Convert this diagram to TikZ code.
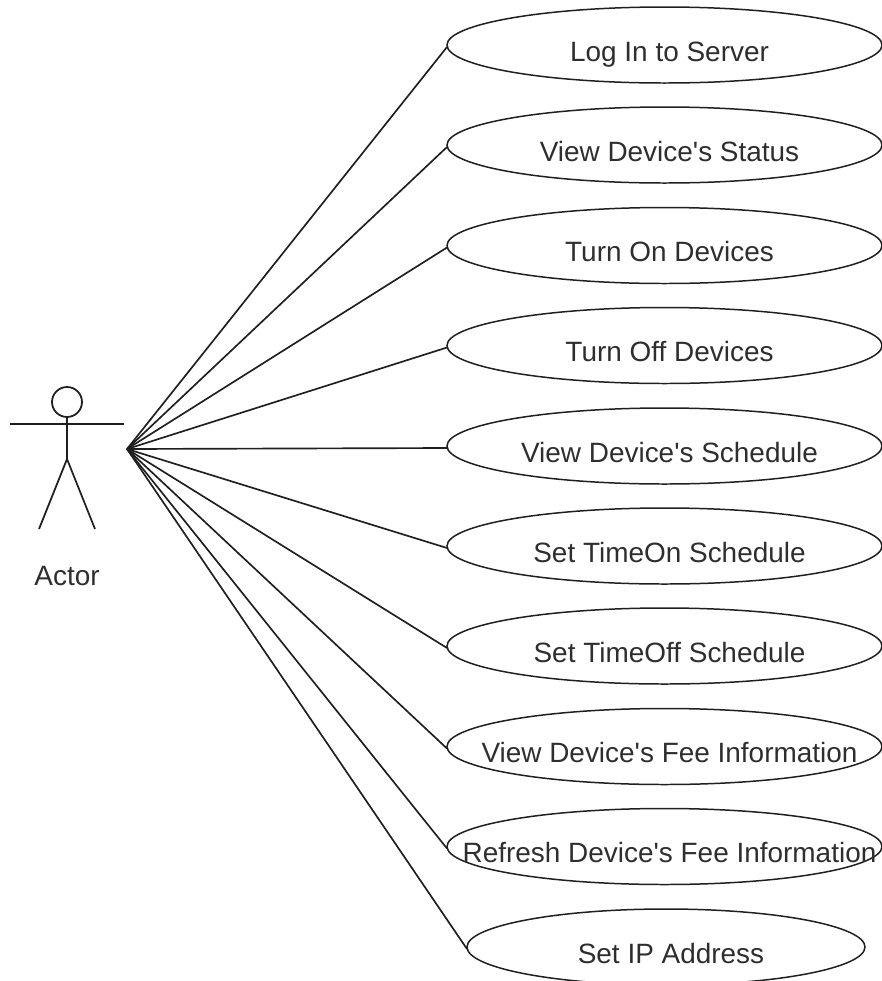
\documentclass[tikz,border=0pt]{standalone}
\usepackage{fontspec}
\usepackage{tikz}
\usepackage{xcolor}
\setmainfont{Liberation Sans}
\usetikzlibrary{shapes.geometric}
\definecolor{linegray}{gray}{0.12}
\definecolor{textgray}{gray}{0.18}
\tikzset{
    usecase/.style={draw=linegray, ellipse, line width=0.85pt, minimum width=8.7cm, minimum height=1.52cm, inner sep=0pt, outer sep=0pt},
    usecasetext/.style={font=\fontsize{15.9}{18}\selectfont, text=textgray, inner sep=0pt, text height=0.38cm, text depth=0.1cm, xshift=0.1cm, yshift=-0.18cm},
    assoc/.style={draw=linegray, line width=0.95pt},
    actorline/.style={draw=linegray, line width=1pt}
}
\begin{document}
\begin{tikzpicture}
        \useasboundingbox (0,0) rectangle (17.64,-19.62);

        % Actor figure
        \node (head) at (1.34,-8.04) [circle, draw=linegray, line width=1pt, minimum size=0.6cm, inner sep=0pt, outer sep=0pt] {};
        \coordinate (hip) at (1.34,-9.18);
        \coordinate (armL) at (0.2,-8.48);
        \coordinate (armR) at (2.48,-8.48);
        \coordinate (footL) at (0.78,-10.58);
        \coordinate (footR) at (1.9,-10.58);
        \draw[actorline] (head.south) -- (hip);
        \draw[actorline] (armL) -- (armR);
        \draw[actorline] (footL) -- (hip) -- (footR);
        \node (actorname) at (1.34,-11.52) [font=\fontsize{15.9}{18}\selectfont, text=textgray, inner sep=0pt] {Actor};
        \coordinate (hand) at (2.54,-8.98);

        % Use cases
        \node (login) at (13.29,-0.9) [usecase, label={[usecasetext]center:Log In to Server}] {};
        \node (status) at (13.29,-2.9) [usecase, label={[usecasetext]center:View Device\textquotesingle s Status}] {};
        \node (turnon) at (13.29,-4.91) [usecase, label={[usecasetext]center:Turn On Devices}] {};
        \node (turnoff) at (13.29,-6.91) [usecase, label={[usecasetext]center:Turn Off Devices}] {};
        \node (schedule) at (13.29,-8.92) [usecase, label={[usecasetext]center:View Device\textquotesingle s Schedule}] {};
        \node (timeon) at (13.29,-10.92) [usecase, label={[usecasetext]center:Set TimeOn Schedule}] {};
        \node (timeoff) at (13.29,-12.92) [usecase, label={[usecasetext]center:Set TimeOff Schedule}] {};
        \node (fee) at (13.29,-14.93) [usecase, label={[usecasetext]center:View Device\textquotesingle s Fee Information}] {};
        \node (refresh) at (13.29,-16.93) [usecase, label={[usecasetext]center:Refresh Device\textquotesingle s Fee Information}] {};
        \node (ipaddress) at (13.32,-18.94) [usecase, minimum width=7.96cm, label={[usecasetext]center:Set IP Address}] {};

        % Associations
        \draw[assoc] (hand) -- ([yshift=-0.04cm]login.west);
        \draw[assoc] (hand) -- ([yshift=-0.04cm]status.west);
        \draw[assoc] (hand) -- ([yshift=-0.04cm]turnon.west);
        \draw[assoc] (hand) -- ([yshift=-0.04cm]turnoff.west);
        \draw[assoc] (hand) -- ([yshift=-0.04cm]schedule.west);
        \draw[assoc] (hand) -- ([yshift=-0.04cm]timeon.west);
        \draw[assoc] (hand) -- ([yshift=-0.04cm]timeoff.west);
        \draw[assoc] (hand) -- ([yshift=-0.04cm]fee.west);
        \draw[assoc] (hand) -- ([yshift=-0.04cm]refresh.west);
        \draw[assoc] (hand) -- ([yshift=-0.04cm]ipaddress.west);
    \end{tikzpicture}
\end{document}
